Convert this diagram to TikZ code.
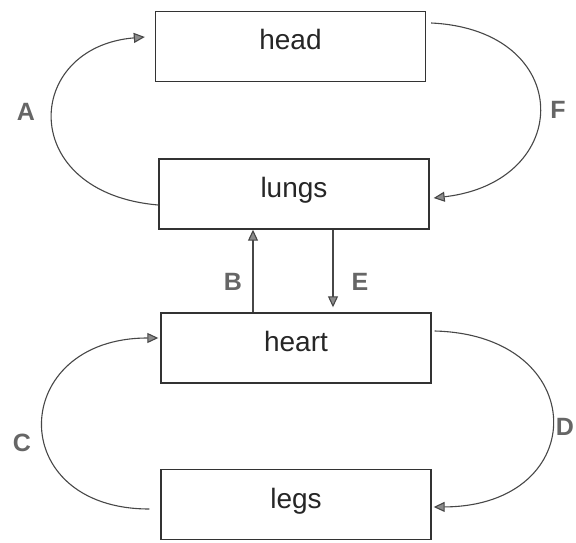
\documentclass[tikz,border=0pt]{standalone}
\usepackage{fontspec}
\setmainfont{Liberation Sans}
\usetikzlibrary{arrows.meta}
\tikzset{
  ->, % every connector is directed
  >={Triangle[length=11pt,width=10pt,fill=black!45]}, % grey filled heads
  organ/.style={draw=black!80, line width=1.4pt, minimum width=270pt, minimum height=70pt,
    inner sep=0pt, text height=20pt, text depth=13pt,
    font=\fontsize{28}{32}\selectfont, text=black!85}, % the four boxes
  flow/.style={draw=black!72, line width=1.1pt}, % the blood paths
  tag/.style={font=\fontsize{25}{28}\selectfont\bfseries, text=black!60}, % letters
}

\begin{document}
\begin{tikzpicture}[x=1pt, y=-1pt]
  \useasboundingbox (0,0) rectangle (576,543);

  \node[organ] (head)  at (290.5,46.5) {head};
  \node[organ] (lungs) at (294,194)    {lungs};
  \node[organ] (heart) at (296,348)    {heart};
  \node[organ] (legs)  at (296,504.5)  {legs};

  % loops round the sides
  \draw[flow] ([yshift=-11pt]lungs.west) .. controls +(-142,-12) and +(-122,10) .. ([xshift=-10pt,yshift=9.5pt]head.west);
  \draw[flow] ([xshift=5pt,yshift=23.5pt]head.east) .. controls +(144,7) and +(141,-16) .. ([xshift=4pt,yshift=-4pt]lungs.east);
  \draw[flow] ([xshift=-11pt,yshift=-4.5pt]legs.west) .. controls +(-146,0) and +(-150,0) .. ([xshift=-2pt,yshift=10pt]heart.west);
  \draw[flow] ([xshift=3pt,yshift=17pt]heart.east) .. controls +(157,4) and +(158,-1) .. ([xshift=2pt,yshift=-2.5pt]legs.east);

  % between lungs and heart
  \draw[flow] ([xshift=-43pt]heart.north) -- ([xshift=-43pt]heart.north |- lungs.south);
  \draw[flow, shorten >=5pt] ([xshift=39pt]lungs.south) -- ([xshift=39pt]lungs.south |- heart.north);

  \node[tag] (A) at (26,112)  {A};
  \node[tag] (B) at (233,282) {B};
  \node[tag] (C) at (22,443)  {C};
  \node[tag] (D) at (565,427) {D};
  \node[tag] (E) at (360,282) {E};
  \node[tag] (F) at (558,110) {F};
\end{tikzpicture}
\end{document}
